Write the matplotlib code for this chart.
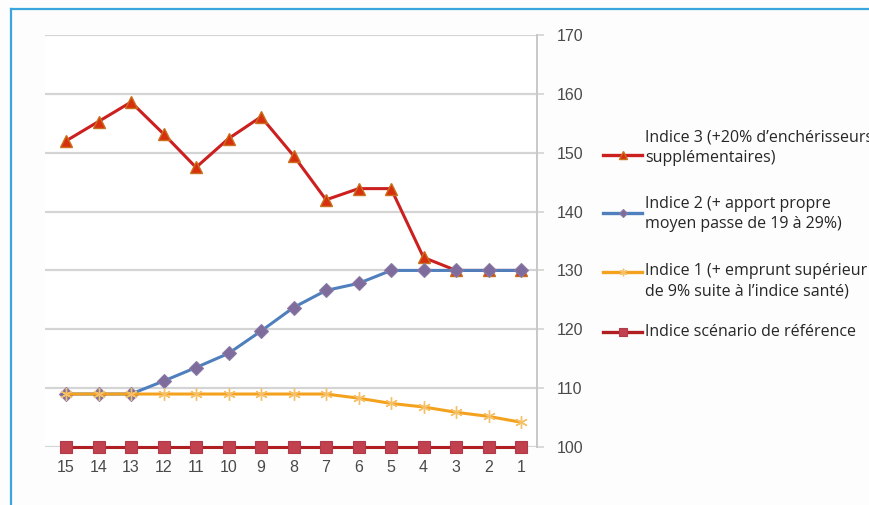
import matplotlib
matplotlib.use("Agg")
import matplotlib.pyplot as plt
from matplotlib.lines import Line2D

# Years remaining (x axis, read right to left as countdown)
periods = ["15", "14", "13", "12", "11", "10", "9", "8", "7", "6", "5", "4", "3", "2", "1"]

indice_3 = [152.0, 155.3, 158.6, 153.2, 147.5, 152.4, 156.1, 149.5, 142.0, 143.9, 143.9, 132.2, 130.0, 130.0, 130.0]
indice_2 = [109.0, 109.0, 109.0, 111.2, 113.5, 115.9, 119.7, 123.7, 126.6, 127.8, 130.0, 130.0, 130.0, 130.0, 130.0]
indice_1 = [109.0, 109.0, 109.0, 109.0, 109.0, 109.0, 109.0, 109.0, 109.0, 108.3, 107.4, 106.8, 105.9, 105.2, 104.2]
indice_ref = [100.0] * 15

y_ticks = [100, 110, 120, 130, 140, 150, 160, 170]

labels = [
    "Indice 3 (+20% d\u2019enchérisseurs\nsupplémentaires)",
    "Indice 2 (+ apport propre\nmoyen passe de 19 à 29%)",
    "Indice 1 (+ emprunt supérieur\nde 9% suite à l\u2019indice santé)",
    "Indice scénario de référence",
]

W, H = 869, 505
fig = plt.figure(figsize=(W / 100, H / 100), dpi=100)
fig.patch.set_facecolor("#fdfdfd")

ax = fig.add_axes([45 / W, 1 - 447 / H, (537 - 45) / W, (447 - 35) / H])
ax.set_facecolor("white")

x = list(range(len(periods)))

styles = [
    dict(color="#cc2020", lw=2.2, marker="^", ms=8.5, mfc="#d8300e", mec="#c8701e", mew=1.0, zorder=3),
    dict(color="#4f7fbd", lw=2.2, marker="D", ms=7, mfc="#7d6c9c", mec="#8a7aa6", mew=0.8, zorder=4),
    dict(color="#f4a21e", lw=2.2, marker=(6, 2, 0), ms=9, mfc="none", mec="#f6c068", mew=1.0, zorder=5),
    dict(color="#b01e22", lw=2.2, marker="s", ms=8.5, mfc="#c2414e", mec="#b03a4a", mew=0.8, zorder=6),
]
series = [indice_3, indice_2, indice_1, indice_ref]

for vals, st in zip(series, styles):
    ax.plot(x, vals, **st, clip_on=False)

ax.set_xlim(-0.646, 14.49)
ax.set_ylim(100, 170)
ax.set_xticks(x)
ax.set_xticklabels(periods)
ax.set_yticks(y_ticks)
ax.yaxis.tick_right()
ax.grid(axis="y", color="#d4d4d4", lw=1.6, zorder=0)
for side in ("left", "top", "bottom"):
    ax.spines[side].set_visible(False)
ax.spines["right"].set_color("#c8c8c8")
ax.spines["right"].set_linewidth(1.4)
ax.tick_params(axis="y", length=5, width=1.2, color="#d4d4d4", pad=9,
               labelsize=11.5, labelcolor="#4a4a4a")
ax.tick_params(axis="x", length=0, pad=9, labelsize=11.5, labelcolor="#4a4a4a")
for lab in ax.get_xticklabels() + ax.get_yticklabels():
    lab.set_fontfamily("Liberation Sans")

# Legend drawn in figure pixel coordinates
def px(xp, yp):
    return xp / W, 1 - yp / H

legend_rows = [(155, 148), (213, 214), (272, 281), (332, 332)]
for (hy, ty), st, lab in zip(legend_rows, styles, labels):
    x0, y0 = px(603, hy)
    x1, _ = px(642, hy)
    fig.add_artist(Line2D([x0, x1], [y0, y0], transform=fig.transFigure,
                          color=st["color"], lw=2.4))
    fig.add_artist(Line2D([(x0 + x1) / 2], [y0], transform=fig.transFigure,
                          marker=st["marker"], ms=st["ms"] * 0.6, mfc=st["mfc"],
                          mec=st["mec"], mew=st["mew"], lw=0))
    tx, tyf = px(645, ty)
    fig.text(tx, tyf, lab, ha="left", va="center", fontsize=11.5,
             family="Open Sans", color="#262626", linespacing=1.35)

# Frame lines along the top and left edges
fig.add_artist(Line2D([10.5 / W, 1], [1 - 8.5 / H] * 2, transform=fig.transFigure,
                      color="#3aa6dc", lw=1.6))
fig.add_artist(Line2D([10.5 / W] * 2, [0, 1 - 8.5 / H], transform=fig.transFigure,
                      color="#3aa6dc", lw=1.6))

fig.savefig("out.png", dpi=100, facecolor=fig.get_facecolor())
